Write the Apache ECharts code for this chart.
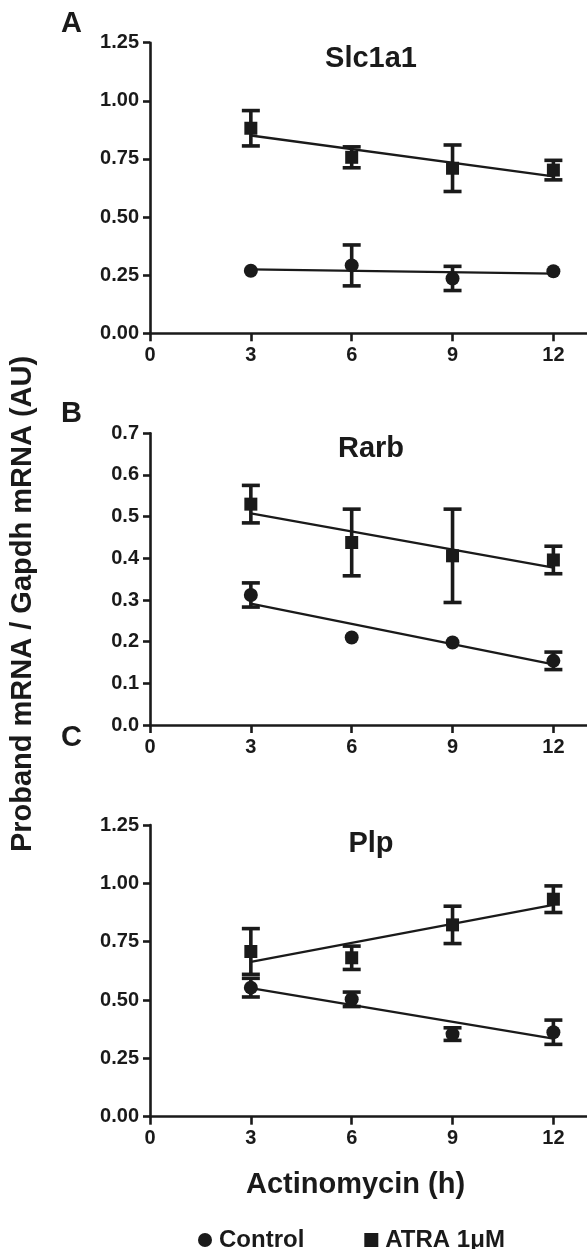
<!DOCTYPE html>
<html>
<head>
<meta charset="utf-8">
<script src="https://cdn.jsdelivr.net/npm/echarts@6/dist/echarts.min.js"></script>
<style>html,body{margin:0;padding:0;background:#fff}#c{width:587px;height:1249px}</style>
</head>
<body>
<div id="c"></div>
<script>
// ---- data ----
var hours = [3, 6, 9, 12];
var xTicks = [0, 3, 6, 9, 12];
var panelTitles = ['Slc1a1', 'Rarb', 'Plp'];
var panelLetters = ['A', 'B', 'C'];
var seriesNames = ['Control', 'ATRA 1\u03bcM'];

var slcControl    = [0.269, 0.292, 0.236, 0.267];
var slcControlErr = [0, 0.088, 0.052, 0];
var slcAtra       = [0.882, 0.757, 0.710, 0.702];
var slcAtraErr    = [0.076, 0.045, 0.100, 0.042];

var rarbControl    = [0.312, 0.210, 0.198, 0.154];
var rarbControlErr = [0.029, 0, 0, 0.021];
var rarbAtra       = [0.530, 0.438, 0.406, 0.396];
var rarbAtraErr    = [0.045, 0.080, 0.112, 0.033];

var plpControl    = [0.553, 0.503, 0.354, 0.362];
var plpControlErr = [0.040, 0.031, 0.027, 0.052];
var plpAtra       = [0.708, 0.681, 0.822, 0.932];
var plpAtraErr    = [0.098, 0.050, 0.080, 0.057];

var yMaxes = [1.25, 0.7, 1.25];
var yIntervals = [0.25, 0.1, 0.25];
var yDecimals = [2, 1, 2];

// ---- build ----
var FONT = "'Liberation Sans', Arial, Helvetica, sans-serif";
var INK = '#1a1a1a';
var panels = [
  {ctrl: slcControl, ctrlErr: slcControlErr, atra: slcAtra, atraErr: slcAtraErr},
  {ctrl: rarbControl, ctrlErr: rarbControlErr, atra: rarbAtra, atraErr: rarbAtraErr},
  {ctrl: plpControl, ctrlErr: plpControlErr, atra: plpAtra, atraErr: plpAtraErr}
];
var gridTops = [42.7, 433.3, 825];
var gridHeights = [290.6, 291.7, 291.7];
var titleTops = [44, 434, 829];
var letterTops = [9, 399, 723];

function fitLine(xs, ys) {
  var n = xs.length, mx = 0, my = 0, sxy = 0, sxx = 0;
  for (var i = 0; i < n; i++) { mx += xs[i]; my += ys[i]; }
  mx /= n; my /= n;
  for (var j = 0; j < n; j++) { sxy += (xs[j] - mx) * (ys[j] - my); sxx += (xs[j] - mx) * (xs[j] - mx); }
  var b = sxy / sxx, a = my - b * mx;
  return [[xs[0], a + b * xs[0]], [xs[n - 1], a + b * xs[n - 1]]];
}

function errRender(params, api) {
  var x = api.value(0), y = api.value(1), e = api.value(2);
  if (!e) return null;
  var top = api.coord([x, y + e]);
  var bot = api.coord([x, y - e]);
  var hw = 9;
  var st = {stroke: INK, lineWidth: 3.6};
  return {
    type: 'group',
    children: [
      {type: 'line', shape: {x1: top[0], y1: top[1], x2: bot[0], y2: bot[1]}, style: st},
      {type: 'line', shape: {x1: top[0] - hw, y1: top[1], x2: top[0] + hw, y2: top[1]}, style: st},
      {type: 'line', shape: {x1: bot[0] - hw, y1: bot[1], x2: bot[0] + hw, y2: bot[1]}, style: st}
    ]
  };
}

var grids = [], xAxes = [], yAxes = [], series = [], titles = [];
panels.forEach(function (p, i) {
  grids.push({left: 150, right: 0, top: gridTops[i], height: gridHeights[i], containLabel: false});
  xAxes.push({
    gridIndex: i, type: 'value', min: 0, max: 13, interval: 3,
    axisLine: {show: true, onZero: false, lineStyle: {color: INK, width: 2.6}},
    axisTick: {show: true, length: 8, customValues: xTicks, lineStyle: {color: INK, width: 2.6}},
    axisLabel: {customValues: xTicks, margin: 12, color: INK, fontSize: 20, fontWeight: 'bold', fontFamily: FONT},
    splitLine: {show: false}
  });
  yAxes.push({
    gridIndex: i, type: 'value', min: 0, max: yMaxes[i], interval: yIntervals[i],
    axisLine: {show: true, onZero: false, lineStyle: {color: INK, width: 2.6}},
    axisTick: {show: true, length: 7, lineStyle: {color: INK, width: 2.6}},
    axisLabel: {margin: 11, color: INK, fontSize: 20, fontWeight: 'bold', fontFamily: FONT,
      formatter: (function (d) { return function (v) { return v.toFixed(d); }; })(yDecimals[i])},
    splitLine: {show: false}
  });
  var groups = [[p.ctrl, p.ctrlErr, 'circle', 14, seriesNames[0]], [p.atra, p.atraErr, 'rect', 13, seriesNames[1]]];
  groups.forEach(function (g) {
    series.push({
      type: 'custom', xAxisIndex: i, yAxisIndex: i, silent: true, z: 3,
      renderItem: errRender,
      data: hours.map(function (h, k) { return [h, g[0][k], g[1][k]]; })
    });
    series.push({
      type: 'line', xAxisIndex: i, yAxisIndex: i, silent: true, z: 2,
      showSymbol: false, symbol: 'none',
      lineStyle: {color: INK, width: 2.3},
      data: fitLine(hours, g[0])
    });
    series.push({
      type: 'scatter', name: g[4], xAxisIndex: i, yAxisIndex: i, z: 4,
      symbol: g[2], symbolSize: g[3],
      itemStyle: {color: INK, opacity: 1},
      data: hours.map(function (h, k) { return [h, g[0][k]]; })
    });
  });
  titles.push({text: panelTitles[i], left: 371, top: titleTops[i], textAlign: 'center', padding: 0,
    textStyle: {fontSize: 29, fontWeight: 'bold', color: INK, fontFamily: FONT}});
  titles.push({text: panelLetters[i], left: 61, top: letterTops[i], padding: 0,
    textStyle: {fontSize: 29, fontWeight: 'bold', color: INK, fontFamily: FONT}});
});

var chart = echarts.init(document.getElementById('c'), null, {renderer: 'canvas'});
chart.setOption({
  animation: false,
  backgroundColor: '#fff',
  title: titles,
  grid: grids,
  xAxis: xAxes,
  yAxis: yAxes,
  legend: {
    data: [{name: seriesNames[0], icon: 'circle', itemStyle: {color: INK, opacity: 1}},
           {name: seriesNames[1], icon: 'rect', itemStyle: {color: INK, opacity: 1}}],
    left: 198, top: 1228, padding: 0, itemWidth: 14, itemHeight: 14, itemGap: 60,
    selectedMode: false,
    textStyle: {fontSize: 24, fontWeight: 'bold', color: INK, fontFamily: FONT, padding: [0, 0, 0, 2]}
  },
  graphic: [
    {type: 'text', x: 23, y: 604, rotation: Math.PI / 2,
      style: {text: 'Proband mRNA / Gapdh mRNA (AU)', fill: INK, font: 'bold 29px ' + FONT, textAlign: 'center', textVerticalAlign: 'middle'}},
    {type: 'text', x: 355.5, y: 1170,
      style: {text: 'Actinomycin (h)', fill: INK, font: 'bold 29px ' + FONT, textAlign: 'center', textVerticalAlign: 'top'}}
  ],
  series: series
});
</script>
</body>
</html>
